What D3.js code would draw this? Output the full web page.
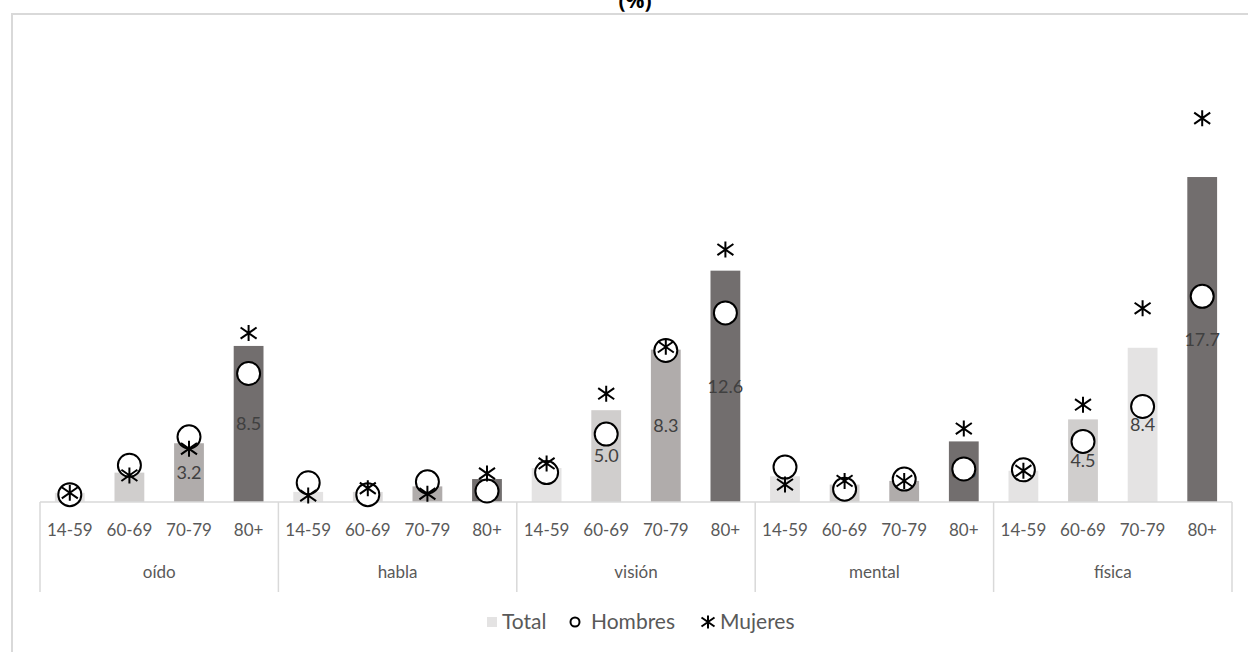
<!DOCTYPE html>
<html>
<head>
<meta charset="utf-8">
<script src="https://cdn.jsdelivr.net/npm/d3@7/dist/d3.min.js"></script>
<style>
  html, body { margin: 0; padding: 0; background: #fff; }
  svg { display: block; }
  text { font-family: Lato, "Open Sans", sans-serif; }
</style>
</head>
<body>
<svg id="chart" width="1248" height="652"></svg>
<script>
// Tipos de discapacidad y grupos de edad
const categories = ["oído", "habla", "visión", "mental", "física"];
const ageGroups = ["14-59", "60-69", "70-79", "80+"];

// Prevalencia (%) por tipo y edad, en orden de categories × ageGroups
const totalValues = [
  0.5, 1.6, 3.2, 8.5,
  0.55, 0.55, 0.85, 1.25,
  1.85, 5.0, 8.3, 12.6,
  1.4, 0.95, 1.15, 3.3,
  1.7, 4.5, 8.4, 17.7
];
const hombresValues = [
  0.4, 2.0, 3.55, 7.0,
  1.05, 0.4, 1.1, 0.6,
  1.6, 3.7, 8.25, 10.3,
  1.9, 0.7, 1.25, 1.8,
  1.75, 3.3, 5.2, 11.2
];
const mujeresValues = [
  0.5, 1.45, 2.9, 9.2,
  0.35, 0.75, 0.45, 1.55,
  2.1, 5.9, 8.45, 13.75,
  0.95, 1.15, 1.15, 4.0,
  1.7, 5.3, 10.55, 20.9
];
// Etiquetas de datos que se muestran sobre las barras de Total
const labelled = [
  false, false, true, true,
  false, false, false, false,
  false, true, true, true,
  false, false, false, true,
  false, true, true, true
];
// Tonos de gris de las barras
const barFills = [
  "#e4e3e3", "#d0cecd", "#b0acab", "#726e6e",
  "#e4e3e3", "#dcdada", "#b0acab", "#726e6e",
  "#e4e3e3", "#d0cecd", "#b0acab", "#726e6e",
  "#e4e3e3", "#d0cecd", "#b0acab", "#726e6e",
  "#e4e3e3", "#d0cecd", "#e4e3e3", "#726e6e"
];
const legendItems = ["Total", "Hombres", "Mujeres"];

const rows = [];
categories.forEach((c, i) => ageGroups.forEach((a, j) => {
  const k = i * ageGroups.length + j;
  rows.push({ cat: c, age: a, total: totalValues[k], hombres: hombresValues[k],
              mujeres: mujeresValues[k], label: labelled[k], fill: barFills[k] });
}));

const svg = d3.select("#chart");
const W = 1248, H = 652;
const axisLeft = 40, axisRight = 1232, baseY = 502;

// Marco del gráfico
svg.append("rect").attr("x", 12).attr("y", 14).attr("width", W + 10).attr("height", H + 10)
  .attr("fill", "none").attr("stroke", "#d9d9d9").attr("stroke-width", 2);

// Título (segunda línea)
svg.append("text").attr("x", 635).attr("y", 8).attr("text-anchor", "middle")
  .attr("font-size", 21).attr("font-weight", "bold").attr("fill", "#000")
  .style("font-family", "'Open Sans', sans-serif").text("(%)");

const x0 = d3.scaleBand().domain(categories).range([axisLeft, axisRight]).padding(0);
const x1 = d3.scaleBand().domain(ageGroups).range([0, x0.bandwidth()]).paddingInner(0.5).paddingOuter(0.25);
const y = d3.scaleLinear().domain([0, 25]).range([baseY, baseY - 25 * 18.36]);

const cx = d => x0(d.cat) + x1(d.age) + x1.bandwidth() / 2;

// Barras de Total
svg.append("g").selectAll("rect").data(rows).join("rect")
  .attr("x", d => x0(d.cat) + x1(d.age))
  .attr("y", d => y(d.total))
  .attr("width", x1.bandwidth())
  .attr("height", d => y(0) - y(d.total))
  .attr("fill", d => d.fill);

// Etiquetas de valor centradas en la barra
svg.append("g").selectAll("text").data(rows.filter(d => d.label)).join("text")
  .attr("x", cx)
  .attr("y", d => (y(d.total) + y(0)) / 2)
  .attr("dy", "0.35em")
  .attr("text-anchor", "middle")
  .attr("font-size", 18)
  .attr("fill", "#404040")
  .text(d => d3.format(".1f")(d.total));

// Eje de categorías en dos niveles
const axisColor = "#d9d9d9";
const ax = svg.append("g");
ax.append("line").attr("x1", axisLeft).attr("x2", axisRight).attr("y1", baseY).attr("y2", baseY)
  .attr("stroke", axisColor).attr("stroke-width", 1.5);
const bounds = categories.map(c => x0(c)).concat([axisRight]);
ax.selectAll("line.sep").data(bounds).join("line").attr("class", "sep")
  .attr("x1", d => d).attr("x2", d => d)
  .attr("y1", baseY).attr("y2", 592)
  .attr("stroke", axisColor).attr("stroke-width", 1.5);
ax.selectAll("text.age").data(rows).join("text").attr("class", "age")
  .attr("x", cx).attr("y", 530).attr("dy", "0.35em")
  .attr("text-anchor", "middle").attr("font-size", 17).attr("fill", "#595959")
  .text(d => d.age);
ax.selectAll("text.cat").data(categories).join("text").attr("class", "cat")
  .attr("x", d => x0(d) + x0.bandwidth() / 2).attr("y", 572).attr("dy", "0.35em")
  .attr("text-anchor", "middle").attr("font-size", 17).attr("fill", "#595959")
  .text(d => d);

// Marcador de asterisco (tres trazos)
function asterisk(g, s) {
  const h = s / 2;
  g.append("path")
    .attr("d", `M0,${-h}V${h}M${-h},${-h * 0.7}L${h},${h * 0.7}M${-h},${h * 0.7}L${h},${-h * 0.7}`)
    .attr("stroke", "#000").attr("stroke-width", 2).attr("fill", "none");
}

// Hombres: círculos
svg.append("g").selectAll("circle").data(rows).join("circle")
  .attr("cx", cx).attr("cy", d => y(d.hombres)).attr("r", 11.5)
  .attr("fill", "#fff").attr("stroke", "#000").attr("stroke-width", 2);

// Mujeres: asteriscos
svg.append("g").selectAll("g").data(rows).join("g")
  .attr("transform", d => `translate(${cx(d)},${y(d.mujeres)})`)
  .each(function () { asterisk(d3.select(this), 16); });

// Leyenda
const lg = svg.append("g").attr("transform", "translate(0,622)");
lg.append("rect").attr("x", 487).attr("y", -5).attr("width", 10).attr("height", 10).attr("fill", "#e4e3e3");
lg.append("text").attr("x", 502).attr("dy", "0.35em").attr("font-size", 21).attr("fill", "#595959").text(legendItems[0]);
lg.append("circle").attr("cx", 575).attr("cy", 0).attr("r", 4.5)
  .attr("fill", "#fff").attr("stroke", "#000").attr("stroke-width", 2);
lg.append("text").attr("x", 591).attr("dy", "0.35em").attr("font-size", 21).attr("fill", "#595959").text(legendItems[1]);
const la = lg.append("g").attr("transform", "translate(708,0)");
asterisk(la, 13);
lg.append("text").attr("x", 720).attr("dy", "0.35em").attr("font-size", 21).attr("fill", "#595959").text(legendItems[2]);
</script>
</body>
</html>
